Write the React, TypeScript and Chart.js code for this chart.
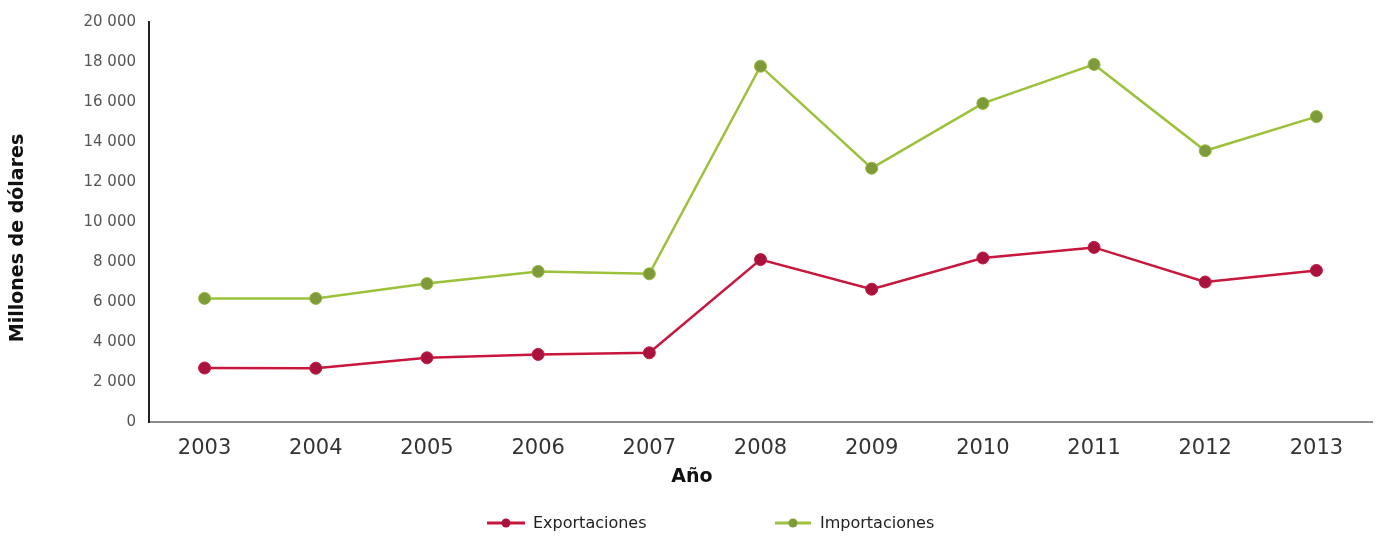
import React, { useEffect, useRef } from "react";
import { Chart, registerables } from "chart.js";

Chart.register(...registerables);

const years = ["2003", "2004", "2005", "2006", "2007", "2008", "2009", "2010", "2011", "2012", "2013"];
const exportaciones = [2700, 2690, 3210, 3380, 3460, 8120, 6640, 8200, 8730, 7000, 7580];
const importaciones = [6180, 6180, 6920, 7530, 7410, 17790, 12690, 15930, 17880, 13560, 15270];
const seriesNames = ["Exportaciones", "Importaciones"];
const yTitle = "Millones de dólares";
const xTitle = "Año";

const FONT = "'DejaVu Sans', 'Open Sans', sans-serif";

const fmt = (v: number) => String(v).replace(/\B(?=(\d{3})+(?!\d))/g, " ");

const decorPlugin = {
  id: "decor",
  afterDraw(chart: any) {
    const ctx = chart.ctx;
    // axis titles
    ctx.save();
    ctx.fillStyle = "#111";
    ctx.font = `bold 19px ${FONT}`;
    ctx.textAlign = "center";
    ctx.textBaseline = "middle";
    ctx.fillText(xTitle, 692, 477);
    ctx.translate(18, 238);
    ctx.rotate(-Math.PI / 2);
    ctx.fillText(yTitle, 0, 0);
    ctx.restore();

    // legend
    const y = 523;
    const items = [
      { x: 487, len: 38, textX: 533 },
      { x: 775, len: 36, textX: 820 },
    ];
    chart.data.datasets.forEach((ds: any, i: number) => {
      const it = items[i];
      ctx.save();
      ctx.strokeStyle = ds.borderColor;
      ctx.lineWidth = 3;
      ctx.beginPath();
      ctx.moveTo(it.x, y);
      ctx.lineTo(it.x + it.len, y);
      ctx.stroke();
      ctx.fillStyle = ds.pointBackgroundColor;
      ctx.beginPath();
      ctx.arc(it.x + it.len / 2, y, 4.5, 0, Math.PI * 2);
      ctx.fill();
      ctx.fillStyle = "#222";
      ctx.font = `16px ${FONT}`;
      ctx.textBaseline = "middle";
      ctx.textAlign = "left";
      ctx.fillText(ds.label, it.textX, y + 1);
      ctx.restore();
    });
  },
};

export default function App() {
  const ref = useRef<HTMLCanvasElement>(null);
  useEffect(() => {
    if (!ref.current) return;
    const chart = new Chart(ref.current, {
      type: "line",
      data: {
        labels: years,
        datasets: [
          {
            label: seriesNames[0],
            data: exportaciones,
            borderColor: "#c8173c",
            backgroundColor: "#c8173c",
            pointBackgroundColor: "#a8123c",
            pointBorderColor: "#c21a45",
            pointBorderWidth: 1,
            pointRadius: 6,
            borderWidth: 2.5,
            tension: 0,
          },
          {
            label: seriesNames[1],
            data: importaciones,
            borderColor: "#9cc13a",
            backgroundColor: "#9cc13a",
            pointBackgroundColor: "#7e9a3a",
            pointBorderColor: "#94b83c",
            pointBorderWidth: 1,
            pointRadius: 6,
            borderWidth: 2.5,
            tension: 0,
          },
        ],
      },
      options: {
        animation: false,
        responsive: true,
        maintainAspectRatio: false,
        layout: { padding: { top: 17, right: 13, bottom: 43, left: 0 } },
        plugins: {
          legend: { display: false },
          tooltip: { enabled: false },
        },
        scales: {
          x: {
            offset: true,
            grid: { display: false, drawTicks: false },
            border: { display: true, color: "#8a8a8a", width: 2 },
            ticks: { color: "#333", font: { family: FONT, size: 21 }, padding: 14, maxRotation: 0 },
            afterFit: (s: any) => {
              s.height = 72;
            },
          },
          y: {
            min: 0,
            max: 20000,
            grid: { display: false, drawTicks: false },
            border: { display: true, color: "#222", width: 2 },
            ticks: {
              stepSize: 2000,
              color: "#555",
              font: { family: FONT, size: 15 },
              padding: 13,
              callback: (v: any) => fmt(Number(v)),
            },
            afterFit: (s: any) => {
              s.width = 149;
            },
          },
        },
      },
      plugins: [decorPlugin],
    });
    return () => chart.destroy();
  }, []);
  return (
    <div style={{ position: "fixed", left: 0, top: 0, width: 1385, height: 537, background: "#fff" }}>
      <canvas ref={ref} />
    </div>
  );
}
